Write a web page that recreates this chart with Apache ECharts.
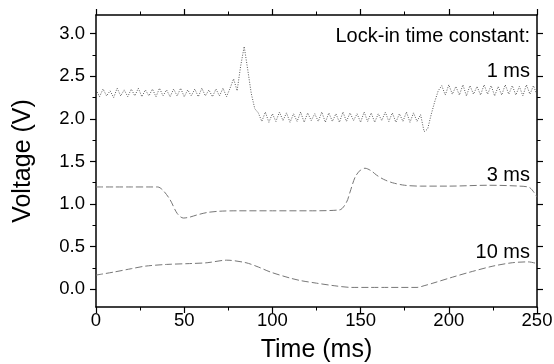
<!DOCTYPE html>
<html>
<head>
<meta charset="utf-8">
<script src="https://cdn.jsdelivr.net/npm/echarts@6/dist/echarts.min.js"></script>
<style>
html,body{margin:0;padding:0;background:#fff;}
#chart{width:554px;height:364px;}
</style>
</head>
<body>
<div id="chart"></div>
<script>
// ---- data ----
const xTickValues = [0, 50, 100, 150, 200, 250];
const yTickValues = [0, 0.5, 1.0, 1.5, 2.0, 2.5, 3.0];
const yMinorTickValues = [-0.25, 0.25, 0.75, 1.25, 1.75, 2.25, 2.75, 3.25];

const seriesNames = ['1 ms', '3 ms', '10 ms'];
const annotationTitle = 'Lock-in time constant:';

// 1 ms trace, sampled every 2 ms from t = 0
const t1msStep = 2;
const v1ms = [
  2.34,2.26,2.35,2.27,2.33,2.25,2.36,2.27,2.34,2.26,
  2.35,2.27,2.36,2.26,2.34,2.27,2.35,2.26,2.36,2.27,
  2.34,2.26,2.35,2.27,2.36,2.26,2.34,2.27,2.35,2.26,
  2.36,2.27,2.34,2.26,2.35,2.27,2.36,2.26,
  2.36,2.47,2.33,2.62,2.85,2.58,2.30,2.12,
  2.07,1.97,2.08,1.96,2.06,1.97,2.08,1.98,2.07,1.96,
  2.06,1.97,2.08,1.96,2.07,1.98,2.06,1.97,2.08,1.96,
  2.07,1.97,2.06,1.96,2.08,1.97,2.07,1.98,2.06,1.96,
  2.08,1.97,2.07,1.96,2.06,1.98,2.08,1.97,2.07,1.96,
  2.06,1.97,2.08,1.96,2.07,1.97,
  2.05,1.85,1.88,2.05,2.20,2.33,
  2.39,2.28,2.40,2.29,2.38,2.28,2.40,2.27,2.39,2.29,
  2.38,2.28,2.40,2.29,2.39,2.27,2.38,2.28,2.40,2.29,
  2.39,2.28,2.38,2.27,2.40,2.29,2.39,2.28
];

// 3 ms trace
const t3ms = [0,10,20,30,35,38,42,46,49.5,53,57,63,70,80,100,120,138,142,144,147,150,152.5,156,159,163,168,175,184,200,222,240,246,250];
const v3ms = [1.2,1.2,1.2,1.2,1.2,1.16,1.05,0.89,0.835,0.845,0.87,0.9,0.915,0.92,0.92,0.92,0.93,1.02,1.14,1.32,1.40,1.42,1.39,1.34,1.29,1.25,1.22,1.21,1.21,1.22,1.21,1.19,1.08];

// 10 ms trace
const t10ms = [0,10,20,28,40,53,63,74,85,92,99,110,116,125,135,145,155,165,182,186,191,202,212,225,236,245,250];
const v10ms = [0.165,0.2,0.24,0.27,0.29,0.3,0.31,0.34,0.31,0.26,0.2,0.13,0.1,0.07,0.04,0.02,0.02,0.02,0.02,0.04,0.07,0.14,0.2,0.27,0.31,0.32,0.3];

// ---- build ----
const d1 = v1ms.map((v, i) => [i * t1msStep, v]);
const d3 = t3ms.map((t, i) => [t, v3ms[i]]);
const d10 = t10ms.map((t, i) => [t, v10ms[i]]);

const FONT = 'Liberation Sans, Arial, sans-serif';
const YMIN = -0.21, YMAX = 3.22;
const axisLineStyle = {color: '#000', width: 1.5};

const chart = echarts.init(document.getElementById('chart'), null, {renderer: 'canvas'});

function xAx(pos, showLabel) {
  return {
    type: 'value', position: pos, min: 0, max: 250, interval: 50,
    axisLine: {show: true, onZero: false, lineStyle: axisLineStyle},
    axisTick: {show: true, inside: false, length: 6, lineStyle: {color: '#000', width: 1.2}},
    minorTick: {show: true, splitNumber: 2, length: 3.5, lineStyle: {color: '#000', width: 1}},
    splitLine: {show: false}, minorSplitLine: {show: false},
    axisLabel: {show: showLabel, margin: 4, color: '#000', fontSize: 18.5, fontFamily: FONT,
      customValues: xTickValues, formatter: v => String(v)},
    name: showLabel ? 'Time (ms)' : '',
    nameLocation: 'middle', nameGap: 31,
    nameTextStyle: {fontSize: 25, color: '#000', fontFamily: FONT}
  };
}
function yAx(pos, major, showLabel) {
  return {
    type: 'value', position: pos, min: YMIN, max: YMAX,
    axisLine: {show: major, onZero: false, lineStyle: axisLineStyle},
    axisTick: {show: true, inside: false, length: major ? 6 : 3.5,
      customValues: major ? yTickValues : yMinorTickValues.filter(v => v > YMIN && v < YMAX),
      lineStyle: {color: '#000', width: major ? 1.2 : 1}},
    splitLine: {show: false},
    axisLabel: {show: showLabel, margin: 11, color: '#000', fontSize: 18.5, fontFamily: FONT,
      customValues: yTickValues, formatter: v => v.toFixed(1)},
    name: showLabel ? 'Voltage (V)' : '',
    nameLocation: 'middle', nameGap: 60,
    nameTextStyle: {fontSize: 25, color: '#000', fontFamily: FONT}
  };
}

const option = {
  backgroundColor: '#fff',
  animation: false,
  grid: {left: 96, right: 17, top: 15, bottom: 57, containLabel: false, outerBoundsMode: 'none'},
  xAxis: [xAx('bottom', true), xAx('top', false)],
  yAxis: [yAx('left', true, true), yAx('left', false, false), yAx('right', true, false), yAx('right', false, false)],
  series: [
    {name: seriesNames[0], type: 'line', data: d1, xAxisIndex: 0, yAxisIndex: 0,
      symbol: 'none', lineStyle: {color: '#444', width: 0.9, type: [1, 1.5]}},
    {name: seriesNames[1], type: 'line', data: d3, xAxisIndex: 0, yAxisIndex: 0, smooth: 0.3,
      symbol: 'none', lineStyle: {color: '#777', width: 1, type: [7, 3]}},
    {name: seriesNames[2], type: 'line', data: d10, xAxisIndex: 0, yAxisIndex: 0, smooth: 0.3,
      symbol: 'none', lineStyle: {color: '#777', width: 1, type: [7, 3]}}
  ],
  graphic: [
    {type: 'text', right: 24, top: 26, style: {text: annotationTitle, fontSize: 20, fontFamily: FONT, fill: '#000'}},
    {type: 'text', right: 24, top: 61, style: {text: seriesNames[0], fontSize: 20, fontFamily: FONT, fill: '#000'}},
    {type: 'text', right: 24, top: 165, style: {text: seriesNames[1], fontSize: 20, fontFamily: FONT, fill: '#000'}},
    {type: 'text', right: 24, top: 242, style: {text: seriesNames[2], fontSize: 20, fontFamily: FONT, fill: '#000'}}
  ]
};
chart.setOption(option);
</script>
</body>
</html>
